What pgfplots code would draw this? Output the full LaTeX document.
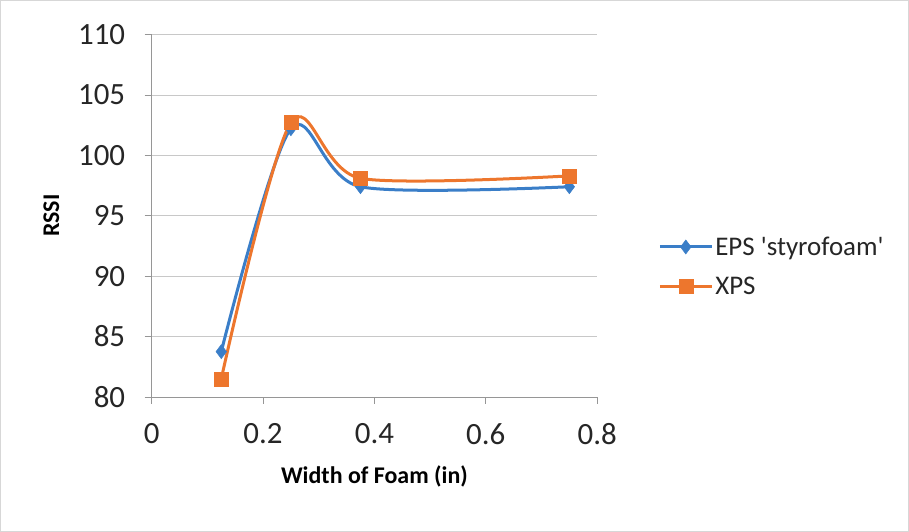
\documentclass[border=0pt]{standalone}
\usepackage{fontspec}
\setmainfont{Carlito}
\usepackage{pgfplots}
\pgfplotsset{compat=1.18}
\definecolor{epsblue}{RGB}{58,126,200}
\definecolor{xpsorange}{RGB}{237,118,45}
\definecolor{gridgray}{RGB}{200,200,200}
\definecolor{axgray}{RGB}{150,150,150}
\definecolor{framegray}{RGB}{215,215,215}
\begin{document}
\begin{tikzpicture}
\begin{axis}[name=ax, scale only axis, width=445bp, height=362bp,
  xmin=0, xmax=0.8, ymin=80, ymax=110,
  xtick={0,0.2,0.4,0.6,0.8}, ytick={80,85,90,95,100,105,110},
  axis lines*=left,
  axis line style={axgray, line width=0.8bp},
  ymajorgrids, grid style={gridgray, line width=0.8bp},
  tick align=outside, major tick length=7bp,
  tick style={axgray, line width=0.8bp},
  /pgf/number format/assume math mode=true,
  ticklabel style={font=\fontsize{31}{32}\selectfont, text=black!85},
  xticklabel style={yshift=-16bp},
  yticklabel style={xshift=-16bp},
  xlabel={\textbf{Width of Foam (in)}},
  ylabel={\textbf{RSSI}},
  xlabel style={font=\fontsize{24}{25}\selectfont, yshift=-14bp},
  ylabel style={font=\fontsize{24}{25}\selectfont, yshift=12bp},
  legend style={draw=none, fill=none, at={(1.13,0.36)}, anchor=west,
    font=\fontsize{27}{28}\selectfont, row sep=16bp, text=black!85},
  legend cell align=left,
  legend image code/.code={
    \draw[#1, mark repeat=2, mark phase=2] plot coordinates {(0bp,0bp) (26bp,0bp) (52bp,0bp)};},
]
\addplot[epsblue, line width=3bp, smooth, mark=diamond*, mark size=7bp,
  mark options={solid, fill=epsblue, line width=0.5bp}]
  coordinates {(0.125,83.75) (0.25,102.2) (0.375,97.4) (0.75,97.4)};
\addlegendentry{EPS \textquotesingle styrofoam\textquotesingle}
\addplot[xpsorange, line width=3bp, smooth, mark=square*, mark size=7bp,
  mark options={solid, fill=xpsorange, line width=0.5bp}]
  coordinates {(0.125,81.5) (0.25,102.7) (0.375,98.1) (0.75,98.3)};
\addlegendentry{XPS}
\end{axis}
\draw[framegray, line width=1bp] ([xshift=-151bp,yshift=-134bp]ax.south west) rectangle ([xshift=311bp,yshift=34bp]ax.north east);
\end{tikzpicture}
\end{document}
